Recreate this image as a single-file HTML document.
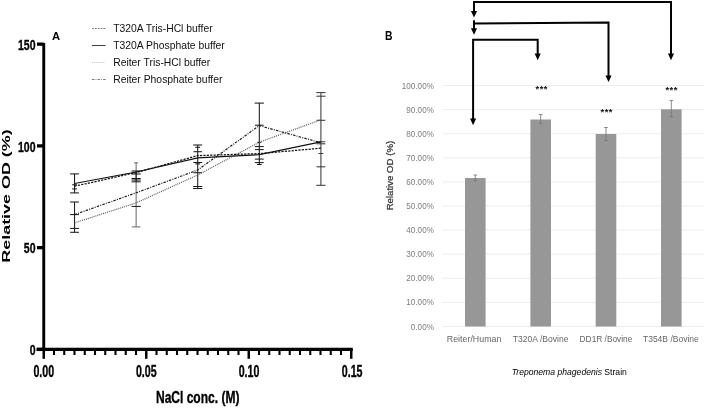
<!DOCTYPE html>
<html><head><meta charset="utf-8"><title>Figure</title>
<style>
html,body{margin:0;padding:0;background:#fff;}
body{width:704px;height:409px;overflow:hidden;font-family:"Liberation Sans",sans-serif;}
svg{display:block;will-change:transform;opacity:0.999;font-family:"Liberation Sans",sans-serif;}
</style></head><body>
<svg width="704" height="409" viewBox="0 0 704 409">
<rect x="0" y="0" width="704" height="409" fill="#ffffff"/>

<g id="chartA">
<line x1="43.75" y1="43.0" x2="43.75" y2="351.0" stroke="#000" stroke-width="2.9"/>
<line x1="36.5" y1="349.4" x2="352.8" y2="349.4" stroke="#000" stroke-width="3.2"/>
<line x1="37" y1="349.40" x2="43.75" y2="349.40" stroke="#000" stroke-width="3.3"/>
<line x1="37" y1="247.65" x2="43.75" y2="247.65" stroke="#000" stroke-width="3.3"/>
<line x1="37" y1="145.90" x2="43.75" y2="145.90" stroke="#000" stroke-width="3.3"/>
<line x1="37" y1="44.15" x2="43.75" y2="44.15" stroke="#000" stroke-width="3.3"/>
<line x1="43.75" y1="349.4" x2="43.75" y2="358.8" stroke="#000" stroke-width="2.5"/>
<line x1="54.00" y1="349.4" x2="54.00" y2="355.0" stroke="#000" stroke-width="2.1"/>
<line x1="64.25" y1="349.4" x2="64.25" y2="355.0" stroke="#000" stroke-width="2.1"/>
<line x1="74.50" y1="349.4" x2="74.50" y2="355.0" stroke="#000" stroke-width="2.1"/>
<line x1="84.75" y1="349.4" x2="84.75" y2="355.0" stroke="#000" stroke-width="2.1"/>
<line x1="95.00" y1="349.4" x2="95.00" y2="355.0" stroke="#000" stroke-width="2.1"/>
<line x1="105.25" y1="349.4" x2="105.25" y2="355.0" stroke="#000" stroke-width="2.1"/>
<line x1="115.50" y1="349.4" x2="115.50" y2="355.0" stroke="#000" stroke-width="2.1"/>
<line x1="125.75" y1="349.4" x2="125.75" y2="355.0" stroke="#000" stroke-width="2.1"/>
<line x1="136.00" y1="349.4" x2="136.00" y2="355.0" stroke="#000" stroke-width="2.1"/>
<line x1="146.25" y1="349.4" x2="146.25" y2="358.8" stroke="#000" stroke-width="2.5"/>
<line x1="156.50" y1="349.4" x2="156.50" y2="355.0" stroke="#000" stroke-width="2.1"/>
<line x1="166.75" y1="349.4" x2="166.75" y2="355.0" stroke="#000" stroke-width="2.1"/>
<line x1="177.00" y1="349.4" x2="177.00" y2="355.0" stroke="#000" stroke-width="2.1"/>
<line x1="187.25" y1="349.4" x2="187.25" y2="355.0" stroke="#000" stroke-width="2.1"/>
<line x1="197.50" y1="349.4" x2="197.50" y2="355.0" stroke="#000" stroke-width="2.1"/>
<line x1="207.75" y1="349.4" x2="207.75" y2="355.0" stroke="#000" stroke-width="2.1"/>
<line x1="218.00" y1="349.4" x2="218.00" y2="355.0" stroke="#000" stroke-width="2.1"/>
<line x1="228.25" y1="349.4" x2="228.25" y2="355.0" stroke="#000" stroke-width="2.1"/>
<line x1="238.50" y1="349.4" x2="238.50" y2="355.0" stroke="#000" stroke-width="2.1"/>
<line x1="248.75" y1="349.4" x2="248.75" y2="358.8" stroke="#000" stroke-width="2.5"/>
<line x1="259.00" y1="349.4" x2="259.00" y2="355.0" stroke="#000" stroke-width="2.1"/>
<line x1="269.25" y1="349.4" x2="269.25" y2="355.0" stroke="#000" stroke-width="2.1"/>
<line x1="279.50" y1="349.4" x2="279.50" y2="355.0" stroke="#000" stroke-width="2.1"/>
<line x1="289.75" y1="349.4" x2="289.75" y2="355.0" stroke="#000" stroke-width="2.1"/>
<line x1="300.00" y1="349.4" x2="300.00" y2="355.0" stroke="#000" stroke-width="2.1"/>
<line x1="310.25" y1="349.4" x2="310.25" y2="355.0" stroke="#000" stroke-width="2.1"/>
<line x1="320.50" y1="349.4" x2="320.50" y2="355.0" stroke="#000" stroke-width="2.1"/>
<line x1="330.75" y1="349.4" x2="330.75" y2="355.0" stroke="#000" stroke-width="2.1"/>
<line x1="341.00" y1="349.4" x2="341.00" y2="355.0" stroke="#000" stroke-width="2.1"/>
<line x1="351.25" y1="349.4" x2="351.25" y2="358.8" stroke="#000" stroke-width="2.5"/>
<text transform="translate(35.50,355.00) scale(0.685,1)" text-anchor="end" font-size="15.4" font-weight="bold" fill="#000" stroke="#000" stroke-width="0.35" stroke-linejoin="round">0</text>
<text transform="translate(35.50,253.25) scale(0.685,1)" text-anchor="end" font-size="15.4" font-weight="bold" fill="#000" stroke="#000" stroke-width="0.35" stroke-linejoin="round">50</text>
<text transform="translate(35.50,151.50) scale(0.685,1)" text-anchor="end" font-size="15.4" font-weight="bold" fill="#000" stroke="#000" stroke-width="0.35" stroke-linejoin="round">100</text>
<text transform="translate(35.50,49.75) scale(0.685,1)" text-anchor="end" font-size="15.4" font-weight="bold" fill="#000" stroke="#000" stroke-width="0.35" stroke-linejoin="round">150</text>
<text transform="translate(43.75,377.20) scale(0.67,1)" text-anchor="middle" font-size="15.9" font-weight="bold" fill="#000" stroke="#000" stroke-width="0.35" stroke-linejoin="round">0.00</text>
<text transform="translate(146.25,377.20) scale(0.67,1)" text-anchor="middle" font-size="15.9" font-weight="bold" fill="#000" stroke="#000" stroke-width="0.35" stroke-linejoin="round">0.05</text>
<text transform="translate(249.05,377.20) scale(0.67,1)" text-anchor="middle" font-size="15.9" font-weight="bold" fill="#000" stroke="#000" stroke-width="0.35" stroke-linejoin="round">0.10</text>
<text transform="translate(352.15,377.20) scale(0.67,1)" text-anchor="middle" font-size="15.9" font-weight="bold" fill="#000" stroke="#000" stroke-width="0.35" stroke-linejoin="round">0.15</text>
<text transform="translate(197.70,403.30) scale(0.762,1)" text-anchor="middle" font-size="15.8" font-weight="bold" fill="#000" stroke="#000" stroke-width="0.35" stroke-linejoin="round">NaCl conc. (M)</text>
<text transform="translate(9.5,196.0) rotate(-90) scale(1.60,1)" text-anchor="middle" font-size="11.2" font-weight="bold" fill="#000">Relative OD (%)</text>
<text x="52.1" y="39.8" font-size="11.2" font-weight="bold" fill="#000">A</text>
<line x1="92" y1="28.50" x2="105.6" y2="28.50" stroke="#4a4a4a" stroke-width="0.75" stroke-dasharray="1.8,1.1"/>
<text x="113.2" y="32.20" font-size="10.36" fill="#111">T320A Tris-HCl buffer</text>
<line x1="92" y1="45.50" x2="105.6" y2="45.50" stroke="#1c1c1c" stroke-width="0.85"/>
<text x="113.2" y="49.20" font-size="10.36" fill="#111">T320A Phosphate buffer</text>
<line x1="92" y1="62.50" x2="105.6" y2="62.50" stroke="#a0a0a0" stroke-width="0.75" stroke-dasharray="0.8,1.1"/>
<text x="113.2" y="66.20" font-size="10.36" fill="#111">Reiter Tris-HCl buffer</text>
<line x1="92" y1="79.50" x2="105.6" y2="79.50" stroke="#4a4a4a" stroke-width="0.75" stroke-dasharray="2.4,1.2,0.8,1.2"/>
<text x="113.2" y="83.20" font-size="10.36" fill="#111">Reiter Phosphate buffer</text>
<line x1="74.55" y1="173.9" x2="74.55" y2="192.9" stroke="#1a1a1a" stroke-width="1.05"/>
<line x1="70.14" y1="173.9" x2="78.95" y2="173.9" stroke="#1a1a1a" stroke-width="1.05"/>
<line x1="70.14" y1="192.9" x2="78.95" y2="192.9" stroke="#1a1a1a" stroke-width="1.05"/>
<line x1="72.14" y1="184.8" x2="76.95" y2="184.8" stroke="#1a1a1a" stroke-width="1.05"/>
<line x1="72.14" y1="188.9" x2="76.95" y2="188.9" stroke="#1a1a1a" stroke-width="1.05"/>
<line x1="74.55" y1="202.0" x2="74.55" y2="232.3" stroke="#1a1a1a" stroke-width="1.05"/>
<line x1="70.14" y1="202.0" x2="78.95" y2="202.0" stroke="#1a1a1a" stroke-width="1.05"/>
<line x1="70.14" y1="214.6" x2="78.95" y2="214.6" stroke="#1a1a1a" stroke-width="1.05"/>
<line x1="70.14" y1="228.4" x2="78.95" y2="228.4" stroke="#1a1a1a" stroke-width="1.05"/>
<line x1="70.14" y1="232.3" x2="78.95" y2="232.3" stroke="#1a1a1a" stroke-width="1.05"/>
<line x1="136.13" y1="162.8" x2="136.13" y2="226.9" stroke="#6c6c6c" stroke-width="1.05"/>
<line x1="134.13" y1="162.8" x2="138.13" y2="162.8" stroke="#6c6c6c" stroke-width="1.05"/>
<line x1="131.83" y1="226.9" x2="140.44" y2="226.9" stroke="#6c6c6c" stroke-width="1.05"/>
<line x1="136.13" y1="171.0" x2="136.13" y2="181.8" stroke="#1a1a1a" stroke-width="1.05"/>
<line x1="131.53" y1="171.0" x2="140.73" y2="171.0" stroke="#1a1a1a" stroke-width="1.05"/>
<line x1="131.53" y1="174.0" x2="140.73" y2="174.0" stroke="#1a1a1a" stroke-width="1.05"/>
<line x1="131.53" y1="178.5" x2="140.73" y2="178.5" stroke="#1a1a1a" stroke-width="1.05"/>
<line x1="131.53" y1="180.0" x2="140.73" y2="180.0" stroke="#1a1a1a" stroke-width="1.05"/>
<line x1="131.53" y1="181.8" x2="140.73" y2="181.8" stroke="#1a1a1a" stroke-width="1.05"/>
<line x1="131.53" y1="206.4" x2="140.73" y2="206.4" stroke="#1a1a1a" stroke-width="1.05"/>
<line x1="197.72" y1="145.0" x2="197.72" y2="188.5" stroke="#1a1a1a" stroke-width="1.05"/>
<line x1="193.22" y1="145.0" x2="202.22" y2="145.0" stroke="#1a1a1a" stroke-width="1.05"/>
<line x1="195.32" y1="147.3" x2="200.12" y2="147.3" stroke="#1a1a1a" stroke-width="1.05"/>
<line x1="193.53" y1="151.7" x2="201.92" y2="151.7" stroke="#1a1a1a" stroke-width="1.05"/>
<line x1="193.32" y1="162.5" x2="202.12" y2="162.5" stroke="#1a1a1a" stroke-width="1.05"/>
<line x1="195.32" y1="163.9" x2="200.12" y2="163.9" stroke="#1a1a1a" stroke-width="1.05"/>
<line x1="193.42" y1="172.7" x2="202.03" y2="172.7" stroke="#1a1a1a" stroke-width="1.05"/>
<line x1="193.12" y1="186.5" x2="202.32" y2="186.5" stroke="#1a1a1a" stroke-width="1.05"/>
<line x1="193.12" y1="188.5" x2="202.32" y2="188.5" stroke="#1a1a1a" stroke-width="1.05"/>
<line x1="259.31" y1="103.1" x2="259.31" y2="164.5" stroke="#1a1a1a" stroke-width="1.05"/>
<line x1="254.72" y1="103.1" x2="263.92" y2="103.1" stroke="#1a1a1a" stroke-width="1.05"/>
<line x1="254.91" y1="125.2" x2="263.71" y2="125.2" stroke="#1a1a1a" stroke-width="1.05"/>
<line x1="257.31" y1="142.3" x2="261.31" y2="142.3" stroke="#1a1a1a" stroke-width="1.05"/>
<line x1="254.91" y1="146.6" x2="263.71" y2="146.6" stroke="#1a1a1a" stroke-width="1.05"/>
<line x1="254.91" y1="149.6" x2="263.71" y2="149.6" stroke="#1a1a1a" stroke-width="1.05"/>
<line x1="254.91" y1="159.1" x2="263.71" y2="159.1" stroke="#1a1a1a" stroke-width="1.05"/>
<line x1="254.91" y1="162.6" x2="263.71" y2="162.6" stroke="#1a1a1a" stroke-width="1.05"/>
<line x1="257.01" y1="164.5" x2="261.62" y2="164.5" stroke="#1a1a1a" stroke-width="1.05"/>
<line x1="320.91" y1="92.6" x2="320.91" y2="185.3" stroke="#3a3a3a" stroke-width="1.05"/>
<line x1="316.31" y1="92.6" x2="325.51" y2="92.6" stroke="#3a3a3a" stroke-width="1.05"/>
<line x1="316.31" y1="96.2" x2="325.51" y2="96.2" stroke="#3a3a3a" stroke-width="1.05"/>
<line x1="316.51" y1="120.3" x2="325.31" y2="120.3" stroke="#3a3a3a" stroke-width="1.05"/>
<line x1="316.51" y1="141.8" x2="325.31" y2="141.8" stroke="#3a3a3a" stroke-width="1.05"/>
<line x1="316.51" y1="143.8" x2="325.31" y2="143.8" stroke="#3a3a3a" stroke-width="1.05"/>
<line x1="318.51" y1="153.5" x2="323.31" y2="153.5" stroke="#3a3a3a" stroke-width="1.05"/>
<line x1="316.51" y1="166.8" x2="325.31" y2="166.8" stroke="#3a3a3a" stroke-width="1.05"/>
<line x1="316.31" y1="185.3" x2="325.51" y2="185.3" stroke="#3a3a3a" stroke-width="1.05"/>
<polyline points="74.55,222.90 136.13,202.90 197.72,175.00 259.31,142.20 320.91,119.80" fill="none" stroke="#5a5a5a" stroke-width="1.2" stroke-dasharray="1.0,1.0"/>
<polyline points="74.55,214.60 136.13,192.80 197.72,170.00 259.31,125.60 320.91,142.80" fill="none" stroke="#1c1c1c" stroke-width="1.2" stroke-dasharray="2.5,1.2,1.0,1.2"/>
<polyline points="74.55,186.20 136.13,172.60 197.72,155.60 259.31,153.60 320.91,148.20" fill="none" stroke="#111" stroke-width="1.25" stroke-dasharray="2.2,1.2"/>
<polyline points="74.55,183.50 136.13,172.00 197.72,157.90 259.31,154.60 320.91,141.80" fill="none" stroke="#111" stroke-width="1.25"/>
</g>
<g id="chartB">
<line x1="442.5" y1="326.50" x2="704" y2="326.50" stroke="#e8e8e8" stroke-width="0.8"/>
<text transform="translate(433.90,329.50) scale(0.925,1)" text-anchor="end" font-size="8.8" font-weight="normal" fill="#7d7d7d" >0.00%</text>
<line x1="442.5" y1="302.40" x2="704" y2="302.40" stroke="#e8e8e8" stroke-width="0.8"/>
<text transform="translate(433.90,305.40) scale(0.925,1)" text-anchor="end" font-size="8.8" font-weight="normal" fill="#7d7d7d" >10.00%</text>
<line x1="442.5" y1="278.30" x2="704" y2="278.30" stroke="#e8e8e8" stroke-width="0.8"/>
<text transform="translate(433.90,281.30) scale(0.925,1)" text-anchor="end" font-size="8.8" font-weight="normal" fill="#7d7d7d" >20.00%</text>
<line x1="442.5" y1="254.20" x2="704" y2="254.20" stroke="#e8e8e8" stroke-width="0.8"/>
<text transform="translate(433.90,257.20) scale(0.925,1)" text-anchor="end" font-size="8.8" font-weight="normal" fill="#7d7d7d" >30.00%</text>
<line x1="442.5" y1="230.10" x2="704" y2="230.10" stroke="#e8e8e8" stroke-width="0.8"/>
<text transform="translate(433.90,233.10) scale(0.925,1)" text-anchor="end" font-size="8.8" font-weight="normal" fill="#7d7d7d" >40.00%</text>
<line x1="442.5" y1="206.00" x2="704" y2="206.00" stroke="#e8e8e8" stroke-width="0.8"/>
<text transform="translate(433.90,209.00) scale(0.925,1)" text-anchor="end" font-size="8.8" font-weight="normal" fill="#7d7d7d" >50.00%</text>
<line x1="442.5" y1="181.90" x2="704" y2="181.90" stroke="#e8e8e8" stroke-width="0.8"/>
<text transform="translate(433.90,184.90) scale(0.925,1)" text-anchor="end" font-size="8.8" font-weight="normal" fill="#7d7d7d" >60.00%</text>
<line x1="442.5" y1="157.80" x2="704" y2="157.80" stroke="#e8e8e8" stroke-width="0.8"/>
<text transform="translate(433.90,160.80) scale(0.925,1)" text-anchor="end" font-size="8.8" font-weight="normal" fill="#7d7d7d" >70.00%</text>
<line x1="442.5" y1="133.70" x2="704" y2="133.70" stroke="#e8e8e8" stroke-width="0.8"/>
<text transform="translate(433.90,136.70) scale(0.925,1)" text-anchor="end" font-size="8.8" font-weight="normal" fill="#7d7d7d" >80.00%</text>
<line x1="442.5" y1="109.60" x2="704" y2="109.60" stroke="#e8e8e8" stroke-width="0.8"/>
<text transform="translate(433.90,112.60) scale(0.925,1)" text-anchor="end" font-size="8.8" font-weight="normal" fill="#7d7d7d" >90.00%</text>
<line x1="442.5" y1="85.50" x2="704" y2="85.50" stroke="#e8e8e8" stroke-width="0.8"/>
<text transform="translate(433.90,88.50) scale(0.925,1)" text-anchor="end" font-size="8.8" font-weight="normal" fill="#7d7d7d" >100.00%</text>
<rect x="465.00" y="178.0" width="20.6" height="148.50" fill="#979797"/>
<line x1="475.3" y1="175.0" x2="475.3" y2="180.6" stroke="#767676" stroke-width="0.85"/>
<line x1="473.5" y1="175.0" x2="477.1" y2="175.0" stroke="#767676" stroke-width="0.85"/>
<line x1="473.5" y1="180.6" x2="477.1" y2="180.6" stroke="#767676" stroke-width="0.85"/>
<rect x="530.40" y="119.5" width="20.6" height="207.00" fill="#979797"/>
<line x1="540.7" y1="114.5" x2="540.7" y2="123.8" stroke="#767676" stroke-width="0.85"/>
<line x1="538.9000000000001" y1="114.5" x2="542.5" y2="114.5" stroke="#767676" stroke-width="0.85"/>
<line x1="538.9000000000001" y1="123.8" x2="542.5" y2="123.8" stroke="#767676" stroke-width="0.85"/>
<rect x="595.70" y="134.0" width="20.6" height="192.50" fill="#979797"/>
<line x1="606.0" y1="127.5" x2="606.0" y2="140.5" stroke="#767676" stroke-width="0.85"/>
<line x1="604.2" y1="127.5" x2="607.8" y2="127.5" stroke="#767676" stroke-width="0.85"/>
<line x1="604.2" y1="140.5" x2="607.8" y2="140.5" stroke="#767676" stroke-width="0.85"/>
<rect x="661.00" y="109.3" width="20.6" height="217.20" fill="#979797"/>
<line x1="671.3" y1="100.5" x2="671.3" y2="116.8" stroke="#767676" stroke-width="0.85"/>
<line x1="669.5" y1="100.5" x2="673.0999999999999" y2="100.5" stroke="#767676" stroke-width="0.85"/>
<line x1="669.5" y1="116.8" x2="673.0999999999999" y2="116.8" stroke="#767676" stroke-width="0.85"/>
<text x="474.1" y="342.0" text-anchor="middle" font-size="8.7" fill="#666666" textLength="54.6" lengthAdjust="spacingAndGlyphs">Reiter/Human</text>
<text x="540.6" y="342.0" text-anchor="middle" font-size="8.7" fill="#666666" textLength="55.6" lengthAdjust="spacingAndGlyphs">T320A /Bovine</text>
<text x="606.0" y="342.0" text-anchor="middle" font-size="8.7" fill="#666666" textLength="52.8" lengthAdjust="spacingAndGlyphs">DD1R /Bovine</text>
<text x="670.9" y="342.0" text-anchor="middle" font-size="8.7" fill="#666666" textLength="55.9" lengthAdjust="spacingAndGlyphs">T354B /Bovine</text>
<text transform="translate(511.7,374.8) scale(0.958,1)" font-size="9" fill="#000"><tspan font-style="italic">Treponema phagedenis</tspan> Strain</text>
<text transform="translate(393.2,175.6) rotate(-90)" text-anchor="middle" font-size="9.65" fill="#333" stroke="#333" stroke-width="0.22">Relative OD (%)</text>
<text transform="translate(385.0,39.7) scale(0.81,1)" font-size="12.8" font-weight="bold" fill="#000">B</text>
<text x="541.75" y="92.2" text-anchor="middle" font-size="9.4" font-weight="bold" fill="#111" letter-spacing="0.45">***</text>
<text x="606.7" y="114.6" text-anchor="middle" font-size="9.4" font-weight="bold" fill="#111" letter-spacing="0.45">***</text>
<text x="671.6" y="93.2" text-anchor="middle" font-size="9.4" font-weight="bold" fill="#111" letter-spacing="0.45">***</text>
<polyline points="474,13 474,2.0 671,2.0 671,55" fill="none" stroke="#000" stroke-width="2.0"/>
<polygon points="470.95,11.000000000000002 477.05,11.000000000000002 474,17.6" fill="#000"/>
<polygon points="667.95,53.6 674.05,53.6 671,60.2" fill="#000"/>
<polyline points="474,30 474,20.3" fill="none" stroke="#000" stroke-width="2.0"/>
<polyline points="474,23.6 608.5,22.5 608.5,77" fill="none" stroke="#000" stroke-width="2.0"/>
<polygon points="470.95,28.199999999999996 477.05,28.199999999999996 474,34.8" fill="#000"/>
<polygon points="605.45,75.4 611.55,75.4 608.5,82.0" fill="#000"/>
<polyline points="473.1,120 473.1,39.8 537.7,39.8 537.7,55" fill="none" stroke="#000" stroke-width="2.0"/>
<polygon points="470.05,118.60000000000001 476.15000000000003,118.60000000000001 473.1,125.2" fill="#000"/>
<polygon points="534.6500000000001,53.6 540.75,53.6 537.7,60.2" fill="#000"/>
</g>
</svg>
</body></html>
